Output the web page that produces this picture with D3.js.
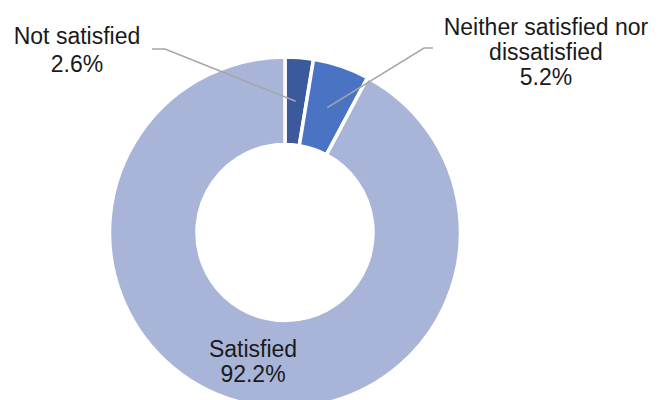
<!DOCTYPE html>
<html>
<head>
<meta charset="utf-8">
<script src="https://cdn.jsdelivr.net/npm/d3@7"></script>
<style>
  body { margin: 0; background: #fff; }
  text { font-family: "Liberation Sans", Arial, sans-serif; fill: #1a1a1a; }
</style>
</head>
<body>
<div id="chart"></div>
<script>
// data
var categories = ["Not satisfied", "Neither satisfied nor dissatisfied", "Satisfied"];
var values = [2.6, 5.2, 92.2];
var colors = ["#3c5a9b", "#4a73c3", "#a8b5d9"];

// label text lines and where each label block sits
var labelLines = [
  ["Not satisfied", "2.6%"],
  ["Neither satisfied nor", "dissatisfied", "5.2%"],
  ["Satisfied", "92.2%"]
];
var labelLayout = [
  {x: 77, y: 44, dy: 28, line: [[152, 49], [165, 49]]},
  {x: 546, y: 35, dy: 25, line: [[433, 48], [424, 48]]},
  {x: 253, y: 357, dy: 25, line: null}
];

var width = 658, height = 400,
    cx = 285, cy = 232.5,
    outerR = 175.5, innerR = 88;

var svg = d3.select("#chart").append("svg")
  .attr("width", width)
  .attr("height", height);

var g = svg.append("g")
  .attr("transform", "translate(" + cx + "," + cy + ")");

var pie = d3.pie().sort(null).value(function(d){ return d; });
var arc = d3.arc().innerRadius(innerR).outerRadius(outerR);

var arcs = pie(values);

g.selectAll("path.slice")
  .data(arcs)
  .enter().append("path")
  .attr("class", "slice")
  .attr("d", arc)
  .attr("fill", function(d, i){ return colors[i]; })
  .attr("stroke", "#fff")
  .attr("stroke-width", 3.5);

// leader lines: from label edge to slice centroid
arcs.forEach(function(d, i){
  var lay = labelLayout[i];
  if (!lay.line) return;
  var c = arc.centroid(d);
  var pts = lay.line.concat([[c[0] + cx, c[1] + cy]]);
  svg.append("path")
    .attr("d", d3.line()(pts))
    .attr("fill", "none")
    .attr("stroke", "#a6a6a6")
    .attr("stroke-width", 1.5);
});

// labels
labelLines.forEach(function(lines, i){
  var lay = labelLayout[i];
  var t = svg.append("text")
    .attr("text-anchor", "middle")
    .style("font-size", "23px");
  lines.forEach(function(s, j){
    t.append("tspan")
      .attr("x", lay.x)
      .attr("y", lay.y + j * lay.dy)
      .text(s);
  });
});
</script>
</body>
</html>
